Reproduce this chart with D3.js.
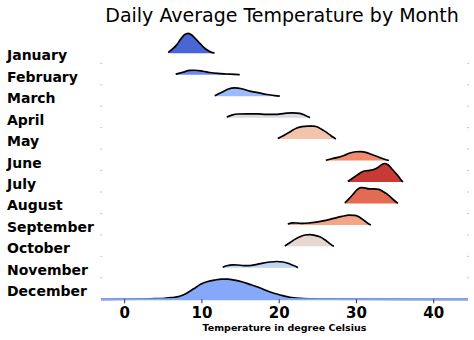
<!DOCTYPE html>
<html>
<head>
<meta charset="utf-8">
<script src="https://cdn.jsdelivr.net/npm/d3@7/dist/d3.min.js"></script>
<style>
  html, body { margin: 0; padding: 0; background: #fff; }
  svg { display: block; font-family: "DejaVu Sans", sans-serif; }
</style>
</head>
<body>
<svg id="chart" width="474" height="340"></svg>
<script>
// Month names, top to bottom
const months = ["January", "February", "March", "April", "May", "June",
  "July", "August", "September", "October", "November", "December"];

// Fill colour of each month (coolwarm, ranked by monthly mean)
const monthColors = ["#4a66d5", "#6b8cef", "#9abbfe", "#d9dbe0", "#f3c4ab", "#ef8c6f",
  "#c83a35", "#e36a53", "#f3a587", "#e5d8d0", "#c1d4f5", "#86a8fb"];

// Kernel density of daily mean temperature, [°C, density]
const january = [[5.7,0.009],[6.2,0.037],[6.8,0.079],[7.3,0.131],[7.8,0.173],[8.3,0.187],
  [8.8,0.168],[9.3,0.131],[9.8,0.093],[10.3,0.056],[10.8,0.028],[11.3,0.009],[11.7,0.003]];
const february = [[6.67,0.005],[7.58,0.023],[8.48,0.040],[9.13,0.042],[10.17,0.033],
  [11.08,0.021],[12.11,0.012],[13.28,0.007],[14.31,0.003],[14.96,0]];
const march = [[11.72,0.005],[12.63,0.037],[13.41,0.065],[14.31,0.078],[15.22,0.070],
  [16.26,0.047],[17.29,0.033],[18.46,0.016],[19.5,0.006],[20.14,0]];
const april = [[13.28,0.005],[13.93,0.023],[14.7,0.034],[16.0,0.036],[17.29,0.036],
  [18.33,0.030],[19.49,0.030],[20.79,0.040],[21.83,0.045],[22.73,0.040],[23.38,0.023],
  [23.9,0.005],[24.03,0]];
const may = [[19.88,0.005],[20.53,0.028],[21.05,0.051],[21.7,0.079],[22.35,0.103],
  [23.0,0.117],[23.77,0.121],[24.55,0.121],[25.19,0.107],[25.84,0.079],[26.49,0.047],
  [27.01,0.019],[27.4,0]];
const june = [[26.1,0.003],[26.88,0.017],[27.66,0.030],[28.43,0.047],[29.21,0.070],
  [29.99,0.082],[30.63,0.084],[31.28,0.077],[32.06,0.056],[32.84,0.036],[33.61,0.014],
  [34.26,0]];
const july = [[28.95,0.005],[29.6,0.037],[30.25,0.070],[30.89,0.098],[31.54,0.107],
  [32.19,0.115],[32.84,0.136],[33.35,0.164],[33.74,0.173],[34.26,0.154],[34.78,0.112],
  [35.3,0.070],[35.69,0.033],[36.07,0]];
const august = [[28.56,0.005],[29.08,0.042],[29.6,0.084],[30.12,0.126],[30.63,0.148],
  [31.15,0.145],[31.67,0.136],[32.32,0.136],[32.97,0.131],[33.48,0.112],[34.0,0.089],
  [34.52,0.056],[35.04,0.023],[35.43,0]];
const september = [[21.18,0.009],[21.83,0.019],[22.47,0.017],[23.12,0.014],[24.03,0.019],
  [25.06,0.028],[26.1,0.042],[27.14,0.061],[28.17,0.079],[29.08,0.091],[29.86,0.089],
  [30.51,0.070],[31.15,0.037],[31.67,0.009],[31.93,0]];
const october = [[20.79,0.003],[21.44,0.033],[22.09,0.065],[22.73,0.089],[23.38,0.106],
  [24.03,0.109],[24.68,0.103],[25.32,0.089],[25.97,0.061],[26.49,0.033],[27.01,0.005],
  [27.14,0]];
const november = [[12.76,0.005],[13.28,0.019],[14.05,0.028],[14.7,0.026],[15.48,0.021],
  [16.26,0.021],[17.03,0.030],[17.81,0.042],[18.85,0.054],[19.75,0.059],[20.53,0.054],
  [21.18,0.042],[21.83,0.023],[22.35,0.007],[22.47,0]];
const december = [[-3,0],[2.01,0.002],[3.95,0.006],[5.25,0.009],[6.15,0.015],[7.19,0.028],
  [8.09,0.056],[9.0,0.098],[9.9,0.140],[10.82,0.166],[11.72,0.180],[12.63,0.189],
  [13.41,0.189],[14.31,0.179],[15.22,0.164],[16.26,0.140],[17.29,0.115],[18.33,0.084],
  [19.37,0.056],[20.4,0.036],[21.44,0.019],[22.73,0.009],[24.29,0.004],[26.62,0.001],
  [44.5,0]];

const xTicks = [0, 10, 20, 30, 40];

const densities = [january, february, march, april, may, june,
  july, august, september, october, november, december];

// ---- layout ----
const svg = d3.select("#chart");
const plotLeft = 101, plotRight = 468;
const firstBase = 53.3, rowStep = 21.45;
const axisY = 299.3;

const x = d3.scaleLinear().domain([-3, 44.5]).range([plotLeft, plotRight]);
const y = d3.scaleLinear().domain([0, 0.2]).range([0, 21.4]);
const row = d3.scalePoint().domain(months)
  .range([firstBase, firstBase + rowStep * (months.length - 1)]);

// the last row sits on the x axis
const baseOf = (m, i) => (i === months.length - 1 ? axisY : row(m));

// title
svg.append("text")
  .attr("x", 282)
  .attr("y", 21.5)
  .attr("text-anchor", "middle")
  .attr("font-size", 19)
  .attr("fill", "#000")
  .text("Daily Average Temperature by Month");

// faint frame ticks at both sides of each row
const sideTicks = svg.append("g").attr("stroke", "#b5b5b5").attr("stroke-width", 1);
months.slice(0, months.length - 1).forEach(m => {
  [plotLeft, plotRight].forEach(px => {
    sideTicks.append("line")
      .attr("x1", px - 0.5).attr("x2", px + 1)
      .attr("y1", row(m) + 10).attr("y2", row(m) + 10);
  });
});

// ridges
const ridges = svg.append("g");
months.forEach((m, i) => {
  const base = baseOf(m, i);
  const pts = densities[i];
  const area = d3.area()
    .x(d => x(d[0]))
    .y0(base)
    .y1(d => base - y(d[1]))
    .curve(d3.curveMonotoneX);
  const line = d3.line()
    .x(d => x(d[0]))
    .y(d => base - y(d[1]))
    .curve(d3.curveMonotoneX);
  const g = ridges.append("g");
  g.append("path").datum(pts)
    .attr("d", area)
    .attr("fill", monthColors[i]);
  g.append("path").datum(pts)
    .attr("d", line)
    .attr("fill", "none")
    .attr("stroke", "#000")
    .attr("stroke-width", 1.7)
    .attr("stroke-linejoin", "round");
  if (i === months.length - 1) {
    g.append("line")
      .attr("x1", plotLeft).attr("x2", plotRight)
      .attr("y1", base).attr("y2", base)
      .attr("stroke", monthColors[i])
      .attr("stroke-width", 2);
  }
});

// month labels
svg.append("g").selectAll("text").data(months).join("text")
  .attr("x", 7)
  .attr("y", d => row(d) + 7)
  .attr("font-size", 14)
  .attr("font-weight", "bold")
  .attr("fill", "#000")
  .text(d => d);

// x axis
const xAxis = d3.axisBottom(x).tickValues(xTicks).tickSize(4).tickPadding(4);
const ax = svg.append("g")
  .attr("transform", `translate(0,${axisY})`)
  .call(xAxis);
ax.select(".domain").remove();
ax.selectAll(".tick line").attr("stroke", "#333");
ax.selectAll(".tick text")
  .attr("font-family", "DejaVu Sans, sans-serif")
  .attr("font-size", 15)
  .attr("font-weight", "bold")
  .attr("fill", "#000");

svg.append("text")
  .attr("x", (plotLeft + plotRight) / 2)
  .attr("y", 331)
  .attr("text-anchor", "middle")
  .attr("font-size", 9.5)
  .attr("font-weight", "bold")
  .attr("fill", "#000")
  .text("Temperature in degree Celsius");
</script>
</body>
</html>
